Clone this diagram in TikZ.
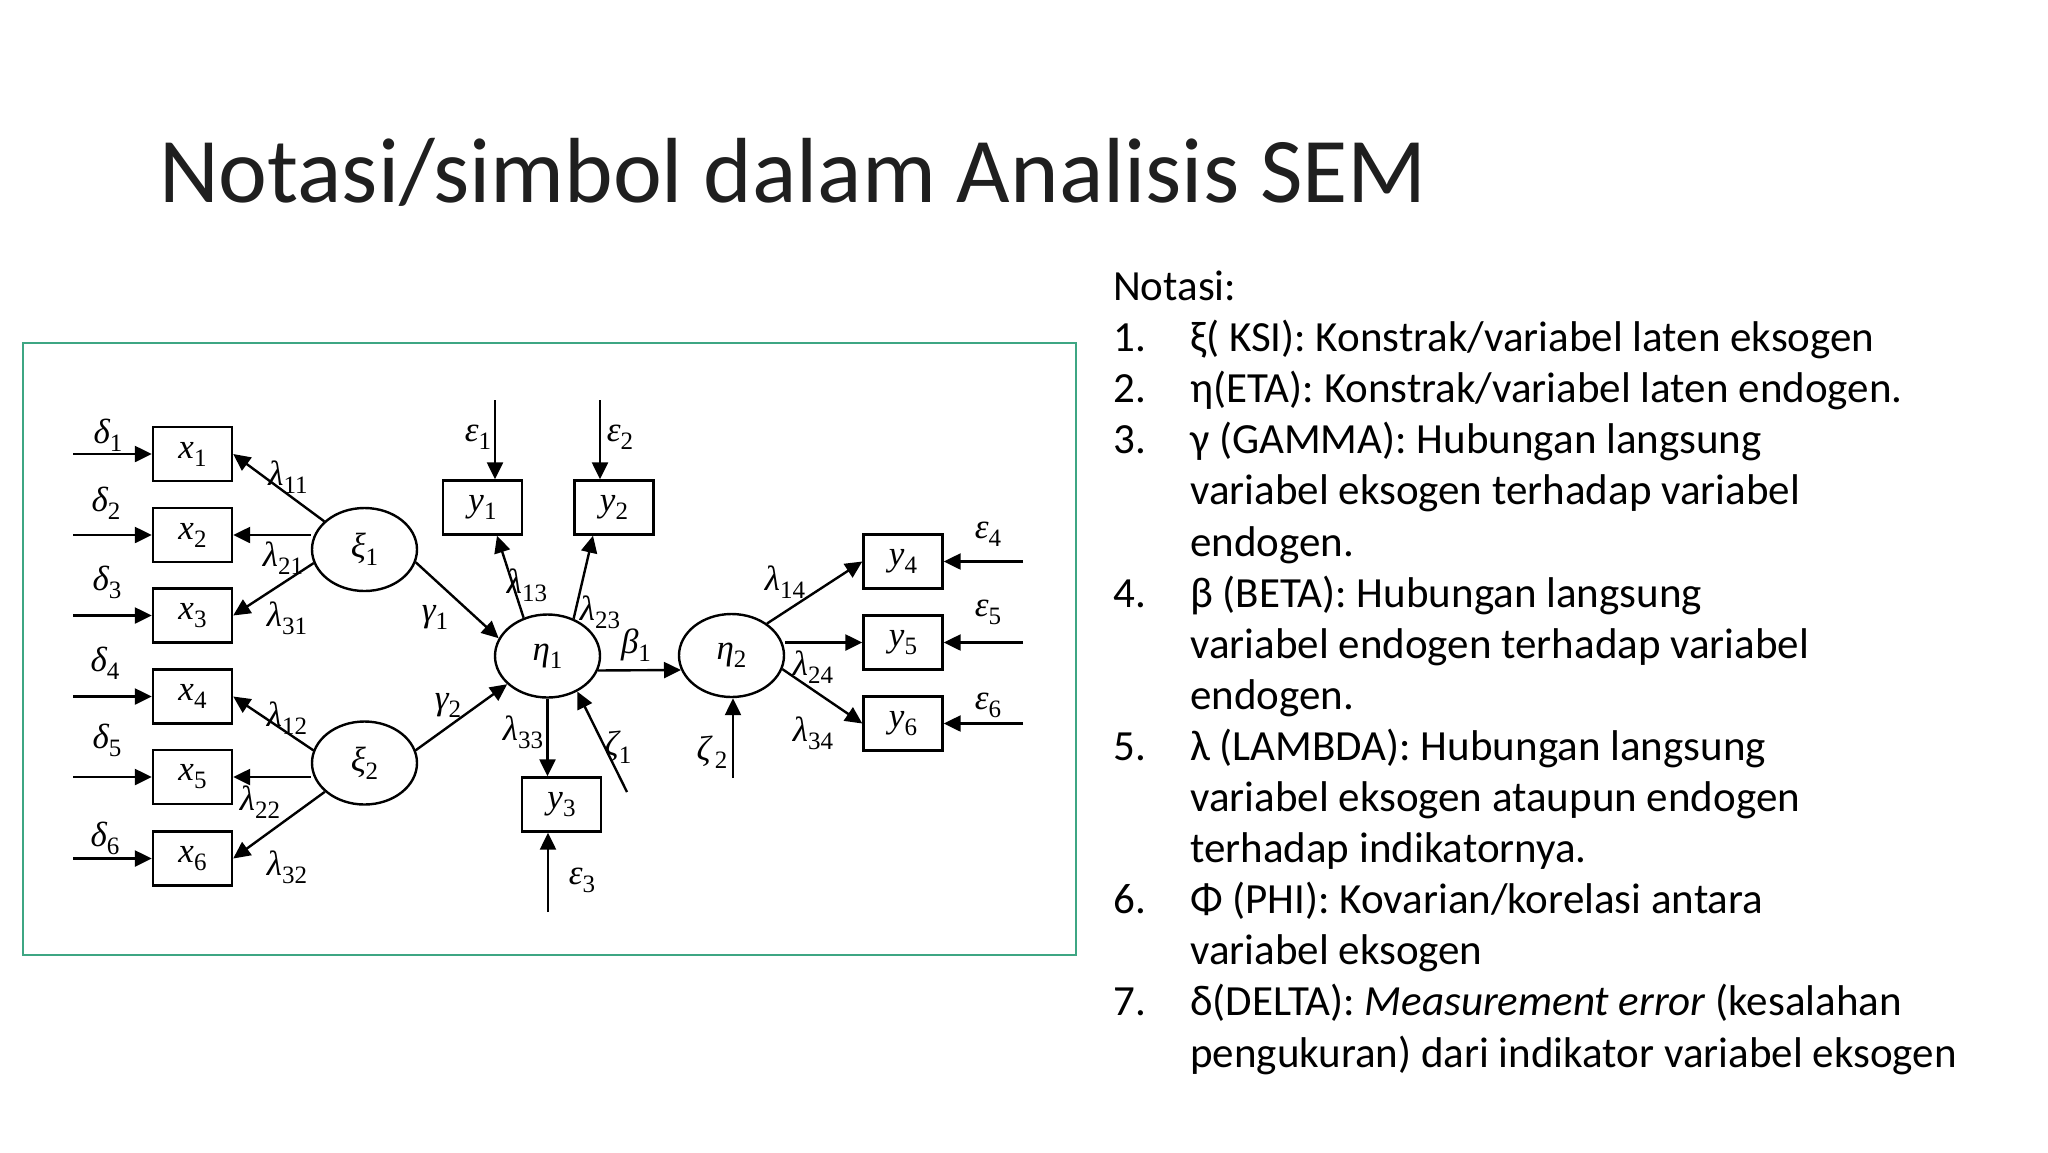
\documentclass[tikz,border=0pt]{standalone}
\usepackage{fontspec}
\setmainfont{Carlito}
\newfontfamily\tms{Liberation Serif}
\usetikzlibrary{arrows.meta,shapes.geometric,calc}
\definecolor{framegreen}{RGB}{62,166,131}
\newcommand{\lb}[2]{{\itshape #1}\raisebox{-8pt}{\fontsize{25}{25}\selectfont #2}}
\begin{document}
\begin{tikzpicture}[x=1pt,y=-1pt,
  lw/.style={line width=2.4pt},
  arr/.style={lw,-{Triangle[length=17pt,width=16pt]}},
  obs/.style={draw,lw,minimum width=79pt,minimum height=54pt,inner sep=0pt,font=\tms\fontsize{35}{35}\selectfont},
  lat/.style={draw,lw,ellipse,minimum width=105pt,minimum height=83pt,inner sep=0pt,font=\tms\fontsize{35}{35}\selectfont},
  lab/.style={inner sep=0pt,font=\tms\fontsize{35}{35}\selectfont},
  txt/.style={anchor=base west,inner sep=0pt,font=\fontsize{43}{43}\selectfont},
]
\useasboundingbox (0,0) rectangle (2048,1152);
\fill[white] (0,0) rectangle (2048,1152);

% title
\node[anchor=base west,inner sep=0pt,font=\fontsize{92.5}{92.5}\selectfont,text=black!88] (title) at (159,202) {Notasi/simbol dalam Analisis SEM};

% frame
\node[draw=framegreen,line width=2pt,minimum width=1053pt,minimum height=612pt,inner sep=0pt] (frame) at (549.5,649) {};

% observed boxes
\node[obs] (x1) at (192.5,454) {\lb{x}{1}};
\node[obs] (x2) at (192.5,535) {\lb{x}{2}};
\node[obs] (x3) at (192.5,615.5) {\lb{x}{3}};
\node[obs] (x4) at (192.5,696.5) {\lb{x}{4}};
\node[obs] (x5) at (192.5,777) {\lb{x}{5}};
\node[obs] (x6) at (192.5,858.5) {\lb{x}{6}};
\node[obs] (y1) at (482.5,507.5) {\lb{y}{1}};
\node[obs] (y2) at (614,507.5) {\lb{y}{2}};
\node[obs] (y3) at (561.5,804.5) {\lb{y}{3}};
\node[obs] (y4) at (903,561.5) {\lb{y}{4}};
\node[obs] (y5) at (903,642.5) {\lb{y}{5}};
\node[obs] (y6) at (903,723.5) {\lb{y}{6}};

% latent
\node[lat] (xi1) at (364.5,549.5) {\lb{ξ}{1}};
\node[lat] (xi2) at (364.5,763) {\lb{ξ}{2}};
\node[lat] (eta1) at (547.5,656) {\lb{η}{1}};
\node[lat] (eta2) at (731.5,655.5) {\lb{η}{2}};

% delta arrows
\coordinate (d1s) at (73,454);
\coordinate (d2s) at (73,535);
\coordinate (d3s) at (73,615.5);
\coordinate (d4s) at (73,696.5);
\coordinate (d5s) at (73,777);
\coordinate (d6s) at (73,858.5);
\draw[arr] (d1s) -- (x1.west);
\draw[arr] (d2s) -- (x2.west);
\draw[arr] (d3s) -- (x3.west);
\draw[arr] (d4s) -- (x4.west);
\draw[arr] (d5s) -- (x5.west);
\draw[arr] (d6s) -- (x6.west);

% loadings of xi
\draw[arr] (xi1.145) -- (x1.east);
\draw[arr] (xi1.west |- x2.east) -- (x2.east);
\draw[arr] (xi1.195) -- (x3.east);
\draw[arr] (xi2.166) -- (x4.east);
\draw[arr] (xi2.west |- x5.east) -- (x5.east);
\draw[arr] (xi2.216) -- (x6.east);

% gammas
\draw[arr] (xi1.-14) -- (eta1.160);
\draw[arr] (xi2.14) -- (eta1.215);

% eta1 indicators
\draw[arr] (eta1.122) -- ([xshift=14.5pt]y1.south);
\draw[arr] (eta1.55) -- ([xshift=-21pt]y2.south);
\draw[arr] (eta1.south) -- (eta1.south |- y3.north);

% epsilons top/bottom
\coordinate (e1s) at (495,400);
\coordinate (e2s) at (600,400);
\coordinate (e3s) at (548,912);
\draw[arr] (e1s) -- (e1s |- y1.north);
\draw[arr] (e2s) -- (e2s |- y2.north);
\draw[arr] (e3s) -- (e3s |- y3.south);

% zeta
\coordinate (z1s) at (627,792);
\coordinate (z2s) at (733,778);
\draw[arr] (z1s) -- (eta1.-50);
\draw[arr] (z2s) -- (z2s |- eta2.south);

% beta
\draw[arr] (eta1.-16) -- (eta2.196);

% eta2 indicators
\draw[arr] (eta2.42) -- (y4.west);
\draw[arr] (eta2.east |- y5.west) -- (y5.west);
\draw[arr] (eta2.-15) -- (y6.west);

% epsilon right
\coordinate (e4s) at (1023,561.5);
\coordinate (e5s) at (1023,642.5);
\coordinate (e6s) at (1023,723.5);
\draw[arr] (e4s) -- (y4.east);
\draw[arr] (e5s) -- (y5.east);
\draw[arr] (e6s) -- (y6.east);

% labels
\node[lab] (ld1) at (108,435) {\lb{δ}{1}};
\node[lab] (ld2) at (106,503) {\lb{δ}{2}};
\node[lab] (ld3) at (107,582) {\lb{δ}{3}};
\node[lab] (ld4) at (105,663) {\lb{δ}{4}};
\node[lab] (ld5) at (107,740) {\lb{δ}{5}};
\node[lab] (ld6) at (105,838) {\lb{δ}{6}};
\node[lab] (ll11) at (288,477) {\lb{λ}{11}};
\node[lab] (ll21) at (283,558) {\lb{λ}{21}};
\node[lab] (ll31) at (287,618) {\lb{λ}{31}};
\node[lab] (ll12) at (287,718) {\lb{λ}{12}};
\node[lab] (ll22) at (260,802) {\lb{λ}{22}};
\node[lab] (ll32) at (287,867) {\lb{λ}{32}};
\node[lab] (ll13) at (527,585) {\lb{λ}{13}};
\node[lab] (ll23) at (600,612) {\lb{λ}{23}};
\node[lab] (ll33) at (523,732) {\lb{λ}{33}};
\node[lab] (ll14) at (785,582) {\lb{λ}{14}};
\node[lab] (ll24) at (813,667) {\lb{λ}{24}};
\node[lab] (ll34) at (813,733) {\lb{λ}{34}};
\node[lab] (lg1) at (435,617) {\lb{γ}{1}};
\node[lab] (lg2) at (448,705) {\lb{γ}{2}};
\node[lab] (lb1) at (636,645) {\lb{β}{1}};
\node[lab] (lz1) at (618,747) {\lb{ζ}{1}};
\node[lab] (lz2) at (712,752) {\lb{ζ}{\,2}};
\node[lab] (le1) at (478,437) {\lb{ε}{1}};
\node[lab] (le2) at (620,437) {\lb{ε}{2}};
\node[lab] (le3) at (582,880) {\lb{ε}{3}};
\node[lab] (le4) at (988,534) {\lb{ε}{4}};
\node[lab] (le5) at (988,612) {\lb{ε}{5}};
\node[lab] (le6) at (988,705) {\lb{ε}{6}};

% right text
\node[txt] (t0) at (1113,300.5) {Notasi:};
\node[txt] (n1) at (1113,351.6) {1.};
\node[txt] (t1) at (1190,351.6) {ξ( KSI): Konstrak/variabel laten eksogen};
\node[txt] (n2) at (1113,402.7) {2.};
\node[txt] (t2) at (1190,402.7) {η(ETA): Konstrak/variabel laten endogen.};
\node[txt] (n3) at (1113,453.8) {3.};
\node[txt] (t3) at (1190,453.8) {γ (GAMMA): Hubungan langsung};
\node[txt] (t4) at (1190,504.9) {variabel eksogen terhadap variabel};
\node[txt] (t5) at (1190,556) {endogen.};
\node[txt] (n4) at (1113,607.1) {4.};
\node[txt] (t6) at (1190,607.1) {β (BETA): Hubungan langsung};
\node[txt] (t7) at (1190,658.2) {variabel endogen terhadap variabel};
\node[txt] (t8) at (1190,709.3) {endogen.};
\node[txt] (n5) at (1113,760.4) {5.};
\node[txt] (t9) at (1190,760.4) {λ (LAMBDA): Hubungan langsung};
\node[txt] (t10) at (1190,811.5) {variabel eksogen ataupun endogen};
\node[txt] (t11) at (1190,862.6) {terhadap indikatornya.};
\node[txt] (n6) at (1113,913.7) {6.};
\node[txt] (t12) at (1190,913.7) {Φ (PHI): Kovarian/korelasi antara};
\node[txt] (t13) at (1190,964.8) {variabel eksogen};
\node[txt] (n7) at (1113,1015.9) {7.};
\node[txt] (t14) at (1190,1015.9) {δ(DELTA): \textit{Measurement error} (kesalahan};
\node[txt] (t15) at (1190,1067) {pengukuran) dari indikator variabel eksogen};
\end{tikzpicture}
\end{document}
